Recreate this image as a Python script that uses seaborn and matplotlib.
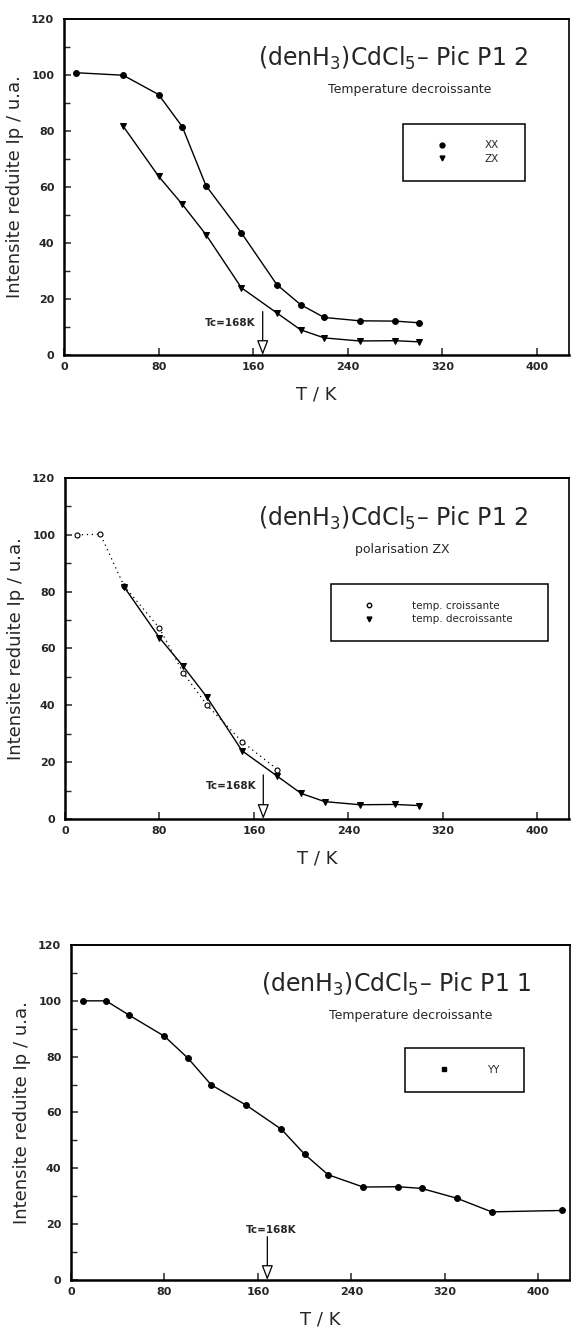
import matplotlib
matplotlib.use("Agg")
import matplotlib.pyplot as plt
from matplotlib.lines import Line2D
import seaborn as sns

# data
t_xx = [10, 50, 80, 100, 120, 150, 180, 200, 220, 250, 280, 300]
i_xx = [100.8, 99.9, 93.0, 81.5, 60.5, 43.6, 25.1, 18.0, 13.4, 12.2, 12.1, 11.5]

t_zx = [50, 80, 100, 120, 150, 180, 200, 220, 250, 280, 300]
i_zx = [81.7, 63.8, 53.8, 43.0, 24.0, 15.0, 9.0, 6.1, 5.0, 5.1, 4.7]

t_up = [10, 30, 50, 80, 100, 120, 150, 180]
i_up = [100.0, 100.2, 82.0, 67.2, 51.5, 40.2, 27.2, 17.4]

t_yy = [10, 30, 50, 80, 100, 120, 150, 180, 200, 220, 250, 280, 300, 330, 360, 420]
i_yy = [100.0, 100.0, 94.8, 87.3, 79.5, 69.9, 62.6, 54.0, 45.0, 37.7, 33.3, 33.4, 32.8, 29.3, 24.4, 24.9]

TC = 168
x_ticks = [0, 80, 160, 240, 320, 400]
y_ticks = [0, 20, 40, 60, 80, 100, 120]

titles = [r"(denH$_3$)CdCl$_5$– Pic P1 2",
          r"(denH$_3$)CdCl$_5$– Pic P1 2",
          r"(denH$_3$)CdCl$_5$– Pic P1 1"]
subtitles = ["Temperature decroissante", "polarisation ZX", "Temperature decroissante"]
sub_x = [0.685, 0.67, 0.68]

sns.set_style("ticks")
plt.rcParams["font.family"] = ["DejaVu Sans"]

fig = plt.figure(figsize=(5.71, 13.34), dpi=100)
rects = [[0.1121, 0.7339, 0.8844, 0.2519],
         [0.1138, 0.3861, 0.8827, 0.2556],
         [0.1243, 0.0405, 0.8740, 0.2511]]
axes = [fig.add_axes(r) for r in rects]

ms = 4.2
lw = 1.0

# panel 1
ax = axes[0]
sns.lineplot(x=t_xx, y=i_xx, ax=ax, color="k", marker="o", markersize=ms,
             markeredgecolor="k", linewidth=lw)
sns.lineplot(x=t_zx, y=i_zx, ax=ax, color="k", marker="v", markersize=ms,
             markeredgecolor="k", linewidth=lw)

# panel 2
ax = axes[1]
sns.lineplot(x=t_up, y=i_up, ax=ax, color="k", marker="o", markersize=3.6,
             markerfacecolor="white", markeredgecolor="k", markeredgewidth=0.8,
             linewidth=0.9, linestyle=(0, (1, 3)))
sns.lineplot(x=t_zx, y=i_zx, ax=ax, color="k", marker="v", markersize=ms,
             markeredgecolor="k", linewidth=lw)

# panel 3
ax = axes[2]
sns.lineplot(x=t_yy, y=i_yy, ax=ax, color="k", marker="o", markersize=ms,
             markeredgecolor="k", linewidth=lw)

legends = [
    ([Line2D([], [], ls="None", marker="o", color="k", markersize=3.5),
      Line2D([], [], ls="None", marker="v", color="k", markersize=3.5)],
     ["XX", "ZX"], (0.672, 0.513, 0.241, 0.181)),
    ([Line2D([], [], ls="None", marker="o", mfc="white", mec="k", color="k", markersize=3.2),
      Line2D([], [], ls="None", marker="v", color="k", markersize=3.5)],
     ["temp. croissante", "temp. decroissante"], (0.527, 0.514, 0.431, 0.183)),
    ([Line2D([], [], ls="None", marker="s", color="k", markersize=3.5)],
     ["YY"], (0.670, 0.559, 0.237, 0.136)),
]

for k, ax in enumerate(axes):
    ax.set_xlim(0, 427)
    ax.set_ylim(0, 120)
    ax.set_xticks(x_ticks)
    ax.set_yticks(y_ticks)
    ax.set_yticks(range(10, 120, 20), minor=True)
    ax.tick_params(axis="both", which="major", direction="in", length=5, width=1.1,
                   labelsize=8)
    ax.tick_params(axis="y", which="minor", direction="in", length=4, width=1.0)
    ax.tick_params(axis="y", which="major", pad=7)
    ax.tick_params(axis="x", which="major", pad=5)
    for lab in ax.get_xticklabels() + ax.get_yticklabels():
        lab.set_fontweight("bold")
    for side in ["left", "bottom", "top", "right"]:
        ax.spines[side].set_visible(True)
        ax.spines[side].set_color("k")
    ax.spines["left"].set_linewidth(1.8)
    ax.spines["bottom"].set_linewidth(1.8)
    ax.spines["top"].set_linewidth(1.4)
    ax.spines["right"].set_linewidth(1.2)

    ax.set_xlabel("T / K", fontsize=13, labelpad=10)
    ax.set_ylabel("Intensite reduite Ip / u.a.", fontsize=13, labelpad=5)

    ax.text(0.652, 0.882, titles[k], transform=ax.transAxes, fontsize=17,
            ha="center", va="center")
    ax.text(sub_x[k], 0.789, subtitles[k], transform=ax.transAxes, fontsize=9,
            ha="center", va="center")

    handles, labels, box = legends[k]
    leg = ax.legend(handles, labels, loc="center", bbox_to_anchor=box,
                    mode="expand", fontsize=7.5, frameon=True, fancybox=False,
                    edgecolor="k", framealpha=1, borderpad=1.6,
                    handlelength=4.2, handletextpad=2.0, labelspacing=0.35,
                    borderaxespad=0)
    leg.get_frame().set_linewidth(1.1)

    # Tc marker arrow
    ax.annotate("", xy=(TC, 0), xytext=(TC, 15.5),
                arrowprops=dict(arrowstyle="-|>,head_length=0.9,head_width=0.35",
                                facecolor="white", edgecolor="k", lw=0.9,
                                shrinkA=0, shrinkB=0))
    if k < 2:
        ax.text(TC - 6, 11.5, "Tc=168K", fontsize=7.5, fontweight="bold",
                ha="right", va="center")
    else:
        ax.text(TC + 3, 18.0, "Tc=168K", fontsize=7.5, fontweight="bold",
                ha="center", va="center")

fig.savefig("out.png", dpi=100)
